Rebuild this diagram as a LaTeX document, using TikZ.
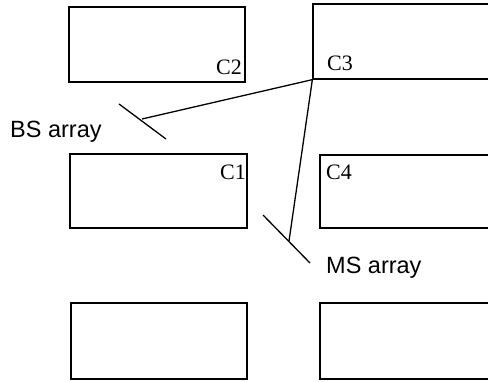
\documentclass[tikz,border=0pt]{standalone}
\usepackage{fontspec}
\setmainfont{Liberation Serif}
\newfontfamily\labelsans{Liberation Sans}
\tikzset{
  cell/.style={draw, line width=1.3pt, rectangle, inner sep=0pt},
  cname/.style={inner sep=0pt, font=\fontsize{22}{26}\selectfont},
  arr/.style={inner sep=0pt, font=\labelsans\fontsize{23.5}{28}\selectfont},
  link/.style={line width=1.3pt},
}
\begin{document}
\begin{tikzpicture}[x=1pt, y=-1pt]
  \useasboundingbox (0,0) rectangle (488,381);
  \begin{scope}
    \clip (0,0) rectangle (488,381);
    % grid of cells
    \node[cell, minimum width=176pt, minimum height=75pt] (c2) at (157,44.5) {};
    \node[cell, minimum width=220pt, minimum height=75pt] (c3) at (423,41.5) {};
    \node[cell, minimum width=177pt, minimum height=74pt] (c1) at (158.5,191) {};
    \node[cell, minimum width=220pt, minimum height=73pt] (c4) at (430,191.5) {};
    \node[cell, minimum width=176pt, minimum height=76pt] (b1) at (159,341) {};
    \node[cell, minimum width=220pt, minimum height=76pt] (b2) at (430,341) {};
  \end{scope}
  % cell names
  \node[cname, anchor=base east] (t2) at (242,74) {C2};
  \node[cname, anchor=base west] (t3) at (327,70) {C3};
  \node[cname, anchor=base east] (t1) at (246,179) {C1};
  \node[cname, anchor=base west] (t4) at (326,179) {C4};
  % antenna arrays
  \coordinate (bsa) at (119,104);
  \coordinate (bsb) at (166,139);
  \coordinate (bsm) at (142,119);
  \coordinate (msa) at (263,215);
  \coordinate (msb) at (310,263);
  \coordinate (msm) at (289,241);
  \draw[link] (bsa) -- (bsb);
  \draw[link] (msa) -- (msb);
  \draw[link] (c3.south west) -- (bsm);
  \draw[link] (c3.south west) -- (msm);
  \node[arr, anchor=base west] (bs) at (10,137) {BS array};
  \node[arr, anchor=base west] (ms) at (326,273) {MS array};
\end{tikzpicture}
\end{document}
